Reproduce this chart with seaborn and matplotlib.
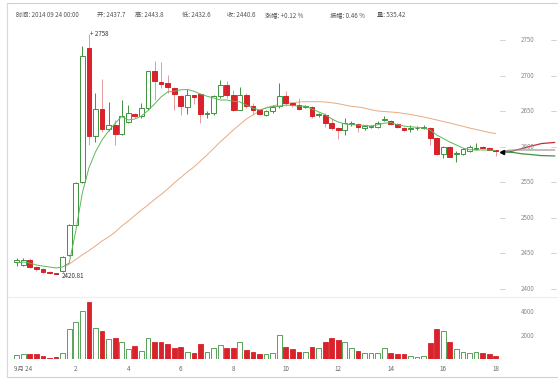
import numpy as np
import seaborn as sns
import matplotlib
matplotlib.use("Agg")
import matplotlib.pyplot as plt
from matplotlib.lines import Line2D

# ---------------- data (15 min candles) ----------------
opens = [2437.7, 2434, 2441, 2431, 2428, 2424, 2422.5, 2426, 2448, 2490,
         2551, 2738.5, 2615, 2653, 2625, 2630, 2618, 2635, 2646, 2643,
         2654, 2706, 2691.6, 2689, 2682, 2671, 2656, 2672, 2674, 2646,
         2647, 2671, 2687, 2673, 2652, 2673, 2657, 2652, 2645, 2650,
         2657, 2671, 2661, 2658, 2656, 2656, 2644, 2645, 2633, 2626,
         2624, 2632, 2631.6, 2627, 2628, 2628, 2638, 2636.7, 2632, 2627,
         2625, 2626, 2627, 2626, 2612, 2590, 2599.5, 2590, 2590, 2594,
         2597, 2599.5, 2598, 2595.5]
highs = [2443.8, 2443, 2443, 2432, 2429, 2425, 2423, 2447, 2492, 2551,
         2742, 2758, 2676, 2695, 2663, 2637, 2666, 2659, 2647, 2662,
         2707, 2720, 2719.6, 2701, 2684, 2672, 2681, 2673, 2676, 2650,
         2672, 2694, 2692, 2680, 2684, 2676, 2661, 2653, 2652, 2658,
         2690, 2679, 2662, 2669, 2659, 2657, 2648, 2647, 2640, 2628,
         2640, 2636, 2633, 2631, 2630, 2636, 2643, 2638, 2633, 2628,
         2630, 2629, 2630, 2628, 2613, 2601, 2601, 2594, 2598, 2602.5,
         2605, 2601, 2599, 2596]
lows = [2432.6, 2432, 2429, 2426, 2423, 2421, 2420.81, 2424, 2446, 2488,
        2549, 2602, 2606, 2620, 2622, 2603, 2616, 2633, 2641, 2641,
        2652, 2666, 2683, 2675, 2651.7, 2645, 2646, 2660, 2633.5, 2640,
        2645, 2669, 2669, 2650, 2651, 2655, 2645, 2644, 2643, 2648,
        2655, 2657, 2656, 2651, 2654, 2640, 2642, 2627.5, 2623, 2611,
        2617, 2629, 2620, 2624, 2627, 2626, 2636, 2631, 2626, 2622,
        2621, 2624, 2625, 2602.5, 2588, 2584, 2585, 2578, 2588, 2593,
        2596, 2597, 2595, 2587]
closes = [2440.6, 2441, 2431, 2427.5, 2424, 2422, 2421.5, 2445.5, 2490, 2549,
          2727, 2615, 2653, 2625, 2630, 2618, 2643, 2647, 2643, 2654,
          2706, 2693, 2688, 2683.5, 2674, 2657, 2672, 2670, 2646, 2648,
          2671, 2687, 2673, 2652, 2673, 2657, 2652, 2646, 2650, 2656,
          2671, 2662, 2658, 2653, 2657, 2643, 2646, 2633, 2626, 2623.6,
          2634, 2633, 2627.5, 2628.5, 2629, 2634, 2639, 2632, 2628, 2623.6,
          2626, 2627, 2628, 2612, 2590, 2599.5, 2586, 2591, 2596.5, 2599,
          2597.5, 2598, 2596, 2593.6]
volumes = [357, 400, 440, 440, 270, 100, 150, 555, 2545, 3165,
           4075, 4895, 2630, 2425, 1690, 1775, 1490, 840, 1125, 700,
           1775, 1465, 1465, 1265, 980, 1040, 585, 555, 1265, 610,
           925, 1180, 980, 980, 1435, 755, 640, 440, 440, 555,
           2060, 1070, 840, 640, 610, 1010, 925, 1490, 1775, 1635,
           1435, 925, 700, 555, 500, 500, 925, 555, 440, 440,
           270, 200, 300, 1400, 2545, 2425, 1490, 900, 600, 500,
           640, 500, 400, 300]
ma_fast = [2436.5, 2438, 2436.5, 2433.7, 2432.3, 2430.9, 2429.5, 2431, 2436.5, 2481.5,
           2535, 2570, 2592.6, 2609.5, 2622, 2633, 2642.5, 2637.6, 2639, 2643,
           2651, 2660, 2670, 2677, 2678, 2680, 2680.5, 2678, 2674, 2671,
           2668.5, 2665.7, 2665.7, 2664, 2663, 2658.6, 2654.4, 2651.6, 2654.4, 2656.5,
           2657, 2658.6, 2658, 2657, 2657, 2653, 2649, 2645.3, 2639, 2634.7,
           2632, 2631, 2630.5, 2630, 2629, 2631, 2633, 2634, 2631, 2629,
           2628, 2627.3, 2626.3, 2623.5, 2616.5, 2611.6, 2606.6, 2602.4, 2598.2, 2595.8,
           2595.4, 2595.4, 2595.4, 2594.7]
ma_slow = [np.nan] * 7 + [
           2429.5, 2435, 2441.5,
           2448, 2454, 2460.4, 2467.5, 2473, 2480, 2488.5, 2495.6, 2503.3, 2511,
           2518, 2525.8, 2532.8, 2540.6, 2549, 2556.7, 2564.5, 2571.5, 2580, 2588.4,
           2597.5, 2606.6, 2615, 2623.5, 2631.2, 2639, 2644.6, 2650.2, 2655, 2657.2,
           2659.3, 2661, 2661.8, 2662.9, 2663.3, 2663.3, 2663.3, 2662.9, 2661.8, 2660.5,
           2658.6, 2656.8, 2655.8, 2654.4, 2652, 2650.2, 2649.5, 2648.8, 2648.1, 2646.7,
           2645.3, 2643.6, 2641.8, 2639.7, 2637.6, 2635.5, 2633.3, 2631, 2628.7, 2626.3,
           2624.2, 2622.1, 2620, 2618.6]
fc_steps = [74, 75, 76, 77, 78, 80, 82]
fc_up = [2593, 2592.5, 2595, 2597.5, 2600, 2604.5, 2606]
fc_mid = [2593, 2595, 2595.4, 2595.4, 2595.4, 2595.4, 2595.4]
fc_down = [2593, 2592.5, 2591.5, 2590, 2589.3, 2587.5, 2587]

price_ticks = [2400, 2450, 2500, 2550, 2600, 2650, 2700, 2750]
vol_ticks = [2000, 4000]
time_ticks = [1, 9, 17, 25, 33, 41, 49, 57, 65, 73]
time_labels = ["9月 24", "2", "4", "6", "8", "10", "12", "14", "16", "18"]

header = [("时间: 2014 09 24 00:00", 16), ("开: 2437.7", 97), ("高: 2443.8", 135),
          ("低: 2432.6", 182), ("收: 2440.6", 227), ("涨幅: +0.12 %", 265),
          ("振幅: 0.46 %", 330), ("量: 535.42", 377)]

RED = "#d9222a"
RED_WICK = "#e39a9a"
GREEN = "#3f923f"
MA1 = "#5cb85c"
MA2 = "#e8aa80"
CJK = "Noto Sans CJK SC"

# ---------------- figure ----------------
sns.set_theme(style="white")
plt.rcParams['font.family'] = [CJK, 'DejaVu Sans']

W, H = 560, 382
fig = plt.figure(figsize=(W / 100, H / 100), dpi=100)
ax = fig.add_axes([0, 1 - 297 / H, 1, 275 / H])
axv = fig.add_axes([0, 1 - 359.2 / H, 1, 62.2 / H], sharex=ax)

o = np.array(opens); c = np.array(closes)
hi = np.array(highs); lo = np.array(lows)
idx = np.arange(len(o))
up = c >= o

# candles
ax.vlines(idx, lo, hi, colors=np.where(up, GREEN, RED_WICK), lw=0.7, zorder=2)
ax.bar(idx, np.maximum(np.abs(c - o), 0.7), bottom=np.minimum(o, c), width=0.72,
       color=np.where(up, "white", RED), edgecolor=np.where(up, GREEN, RED),
       linewidth=0.7, zorder=3)

# moving averages
sns.lineplot(x=idx, y=ma_fast, ax=ax, color=MA1, lw=0.7, zorder=4)
sns.lineplot(x=idx, y=ma_slow, ax=ax, color=MA2, lw=0.7, zorder=1)

# forecast lines
sns.lineplot(x=fc_steps, y=fc_up, ax=ax, color="#c0303a", lw=0.9)
sns.lineplot(x=fc_steps, y=fc_mid, ax=ax, color="#9a9a9a", lw=0.9)
sns.lineplot(x=fc_steps, y=fc_down, ax=ax, color="#3f923f", lw=0.9)
ax.plot(fc_steps[0], fc_up[0], marker="<", ms=3, color="black", zorder=6)

# high / low marks
ax.annotate("+ 2758", xy=(11, max(highs)), xytext=(0.5, 0), textcoords="offset points",
            va="center", ha="left", fontsize=4.5, color="#333333")
ax.annotate("2420.81", xy=(6, min(lows)), xytext=(4, -1), textcoords="offset points",
            va="center", ha="left", fontsize=4.5, color="#333333",
            arrowprops=dict(arrowstyle="-", lw=0.5, color="#333333", shrinkA=0, shrinkB=1))

ax.set_xlim(-16.7 / 6.5625, (W - 16.7) / 6.5625)
ax.set_ylim(2400 - 8 / 0.7114, 2400 + (289 - 22) / 0.7114)

# price scale labels inside the plot
for v in price_ticks:
    ax.text(528 / W, v, str(v), transform=ax.get_yaxis_transform(), ha="center",
            va="center", fontsize=4.5, color="#8a8a8a", zorder=7)
    ax.plot([500 / W, 505 / W], [v, v], transform=ax.get_yaxis_transform(),
            color="#cccccc", lw=0.6)
    ax.plot([551 / W, 556 / W], [v, v], transform=ax.get_yaxis_transform(),
            color="#cccccc", lw=0.6)

# volume bars
vol = np.array(volumes)
axv.bar(idx, vol, width=0.72, color=np.where(up, "white", RED),
        edgecolor=np.where(up, GREEN, RED), linewidth=0.6)
axv.set_ylim(0, 62.2 * 85.1)
for v in vol_ticks:
    axv.text(528 / W, v, str(v), transform=axv.get_yaxis_transform(), ha="center",
             va="center", fontsize=4.5, color="#8a8a8a")

for a in (ax, axv):
    for s in a.spines.values():
        s.set_visible(False)
    a.set_yticks([])
    a.set_facecolor("none")
ax.tick_params(axis="x", labelbottom=False, length=0)
axv.set_xticks(time_ticks)
axv.set_xticklabels(time_labels, family=CJK)
axv.tick_params(axis="x", length=0, pad=4, labelsize=4.5, labelcolor="#666666")

# frame
def hline(y, x0, x1, col):
    fig.add_artist(Line2D([x0 / W, x1 / W], [1 - y / H, 1 - y / H], color=col, lw=0.8))

hline(3, 7, 557, "#d0d0d0")
hline(297, 7, 557, "#eeeeee")
hline(377, 7, 557, "#d0d0d0")
fig.add_artist(Line2D([7 / W, 7 / W], [1 - 3 / H, 1 - 377 / H], color="#d8d8d8", lw=0.8))

for txt, x in header:
    fig.text(x / W, 1 - 15 / H, txt, fontsize=4.5, color="#555555", va="center",
             ha="left", family=CJK)

fig.savefig("out.png", dpi=100)
